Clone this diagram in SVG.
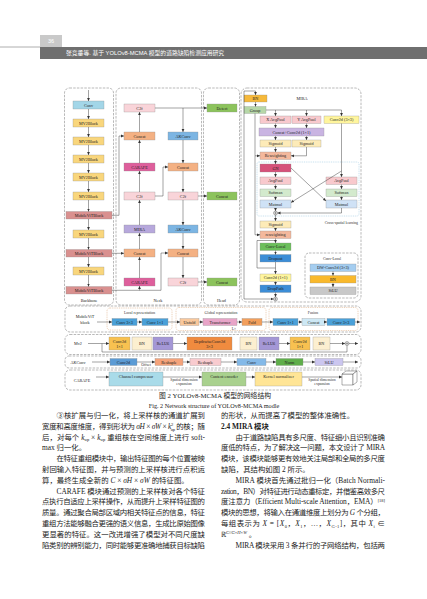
<svg xmlns="http://www.w3.org/2000/svg" width="427" height="599" viewBox="0 0 427 599">
<defs>
<marker id="a" markerWidth="4" markerHeight="4" refX="3" refY="2" orient="auto" markerUnits="userSpaceOnUse"><path d="M0,0.6 L3,2 L0,3.4z" fill="#333"/></marker>
<style>
.n{stroke:#8a8a8a;stroke-width:0.3}
.t{font-family:"Liberation Serif",serif;font-size:4.2px;text-anchor:middle;dominant-baseline:central;fill:#222}
.s{font-family:"Liberation Serif",serif;font-size:3.8px;text-anchor:middle;dominant-baseline:central;fill:#333}
.d{fill:none;stroke:#8a8a8a;stroke-width:0.6;stroke-dasharray:2.5,1.2}
.o{fill:none;stroke:#d9a070;stroke-width:0.5;stroke-dasharray:1,0.8}
.bl{fill:none;stroke:#8fc0dc;stroke-width:0.5;stroke-dasharray:1,0.8}
.c{fill:none;stroke:#333;stroke-width:0.45}
.ca{fill:none;stroke:#333;stroke-width:0.45;marker-end:url(#a)}
.p{font-family:"Liberation Serif","Noto Sans CJK SC",serif;font-size:7.4px;fill:#222}
.cap{font-family:"Liberation Serif","Noto Sans CJK SC",serif;fill:#222;text-anchor:middle}
</style>
</defs>
<rect width="427" height="599" fill="#fff"/>
<!-- header -->
<g id="header">
<rect x="40" y="35" width="22" height="12" fill="#c9c9c9"/>
<text x="51" y="43.3" font-family="Liberation Sans,sans-serif" font-size="5.5" fill="#fff" text-anchor="middle">36</text>
<line x1="0" y1="47" x2="40" y2="47" stroke="#9a9a9a" stroke-width="0.8"/>
<rect x="40" y="47" width="387" height="12" fill="#6f6f6f"/>
<text x="66" y="55.2" font-family="Liberation Sans,Noto Sans CJK SC,sans-serif" font-size="5.8" fill="#fff">张竞垂等. 基于 YOLOv8-MCMA 模型的道路缺陷检测应用研究</text>
</g>

<!-- frames -->
<g id="frames">
<rect class="d" x="64.5" y="88" width="49" height="217" rx="5"/>
<text class="t" x="89" y="300">Backbone</text>
<rect class="d" x="116" y="88" width="85.5" height="217" rx="5"/>
<text class="t" x="158" y="300">Neck</text>
<rect class="d" x="203.5" y="88" width="36" height="217" rx="5"/>
<text class="t" x="221.5" y="300">Head</text>
<rect class="d" x="241" y="88" width="120" height="214" rx="6"/>
<text class="t" x="302" y="98">MIRA</text>
<rect class="bl" x="257" y="162" width="102" height="54" rx="2"/>
<text class="s" x="358" y="223" style="text-anchor:end">Cross-spatial learning</text>
<rect class="d" x="305" y="253" width="53" height="45" rx="4"/>
<text class="s" x="332" y="258.5">Conv-Local</text>
</g>

<!-- backbone nodes -->
<g id="bb-conv"><rect class="n" x="73" y="101" width="31" height="8" fill="#a3d6e8"/><text class="t" x="88.5" y="105">Conv</text></g>
<g id="bb-mv2-1"><rect class="n" x="73" y="119" width="31" height="8" fill="#f9d67c"/><text class="t" x="88.5" y="123">MV2Block</text></g>
<g id="bb-mv2-2"><rect class="n" x="73" y="137" width="31" height="8" fill="#f9d67c"/><text class="t" x="88.5" y="141">MV2Block</text></g>
<g id="bb-mv2-3"><rect class="n" x="73" y="155" width="31" height="8" fill="#f9d67c"/><text class="t" x="88.5" y="159">MV2Block</text></g>
<g id="bb-mv2-4"><rect class="n" x="73" y="173" width="31" height="8" fill="#f9d67c"/><text class="t" x="88.5" y="177">MV2Block</text></g>
<g id="bb-mv2-5"><rect class="n" x="73" y="192" width="31" height="8" fill="#f9d67c"/><text class="t" x="88.5" y="196">MV2Block</text></g>
<g id="bb-mvit-1"><rect class="n" x="66" y="211.5" width="46" height="7.5" fill="#d9908f"/><text class="t" x="89" y="215.3">MobileViTBlock</text></g>
<g id="bb-mv2-6"><rect class="n" x="73" y="230" width="31" height="8" fill="#f9d67c"/><text class="t" x="88.5" y="234">MV2Block</text></g>
<g id="bb-mvit-2"><rect class="n" x="66" y="249.5" width="46" height="7.5" fill="#d9908f"/><text class="t" x="89" y="253.3">MobileViTBlock</text></g>
<g id="bb-mv2-7"><rect class="n" x="73" y="267" width="31" height="8" fill="#f9d67c"/><text class="t" x="88.5" y="271">MV2Block</text></g>
<g id="bb-mvit-3"><rect class="n" x="66" y="286.5" width="46" height="7.5" fill="#d9908f"/><text class="t" x="89" y="290.3">MobileViTBlock</text></g>

<!-- neck nodes -->
<g id="nk-c2f-1"><rect class="n" x="124" y="104" width="31" height="8" fill="#f9d4d9"/><text class="t" x="139.5" y="108">C2f</text></g>
<g id="nk-concat-1"><rect class="n" x="124" y="132" width="31" height="8" fill="#f4b183"/><text class="t" x="139.5" y="136">Concat</text></g>
<g id="nk-carafe-1"><rect class="n" x="124" y="163" width="31" height="8" fill="#de5f9c"/><text class="t" x="139.5" y="167">CARAFE</text></g>
<g id="nk-c2f-2"><rect class="n" x="124" y="192" width="31" height="8" fill="#f9d4d9"/><text class="t" x="139.5" y="196">C2f</text></g>
<g id="nk-mira"><rect class="n" x="124" y="225" width="31" height="8" fill="#b7a8dc"/><text class="t" x="139.5" y="229">MIRA</text></g>
<g id="nk-concat-2"><rect class="n" x="124" y="249" width="31" height="8" fill="#f4b183"/><text class="t" x="139.5" y="253">Concat</text></g>
<g id="nk-carafe-2"><rect class="n" x="124" y="278" width="31" height="8" fill="#de5f9c"/><text class="t" x="139.5" y="282">CARAFE</text></g>
<g id="nk-akconv-1"><rect class="n" x="168" y="132" width="30" height="8" fill="#7cb5e3"/><text class="t" x="183" y="136">AKConv</text></g>
<g id="nk-concat-3"><rect class="n" x="168" y="163" width="30" height="8" fill="#f4b183"/><text class="t" x="183" y="167">Concat</text></g>
<g id="nk-c2f-3"><rect class="n" x="168" y="192" width="30" height="8" fill="#f9d4d9"/><text class="t" x="183" y="196">C2f</text></g>
<g id="nk-akconv-2"><rect class="n" x="168" y="225" width="30" height="8" fill="#7cb5e3"/><text class="t" x="183" y="229">AKConv</text></g>
<g id="nk-concat-4"><rect class="n" x="168" y="249" width="30" height="8" fill="#f4b183"/><text class="t" x="183" y="253">Concat</text></g>
<g id="nk-c2f-4"><rect class="n" x="168" y="278" width="30" height="8" fill="#f9d4d9"/><text class="t" x="183" y="282">C2f</text></g>

<!-- head nodes -->
<g id="hd-detect"><rect class="n" x="207" y="104" width="30" height="8" fill="#8cc35c"/><text class="t" x="222" y="108">Detect</text></g>
<g id="hd-concat-1"><rect class="n" x="207" y="192" width="30" height="8" fill="#8cc35c"/><text class="t" x="222" y="196">Concat</text></g>
<g id="hd-concat-2"><rect class="n" x="207" y="278" width="30" height="8" fill="#8cc35c"/><text class="t" x="222" y="282">Concat</text></g>

<!-- MIRA nodes -->
<g id="m-bn"><rect class="n" x="244" y="95" width="23" height="7" fill="#f6b93b"/><text class="t" x="255.5" y="98.5">BN</text></g>
<g id="m-group"><rect class="n" x="244" y="106.5" width="22" height="7" fill="#b6d7a8"/><text class="t" x="255" y="110">Group</text></g>
<g id="m-xpool"><rect class="n" x="260" y="116" width="31" height="7.5" fill="#f8c9cd"/><text class="t" x="275.5" y="119.8">X AvgPool</text></g>
<g id="m-ypool"><rect class="n" x="292" y="116" width="29" height="7.5" fill="#f8c9cd"/><text class="t" x="306.5" y="119.8">Y AvgPool</text></g>
<g id="m-conv33"><rect class="n" x="324" y="116" width="35" height="7.5" fill="#fff59d"/><text class="t" x="341.5" y="119.8">Conv2d (3×3)</text></g>
<g id="m-concat"><rect class="n" x="259" y="128" width="65" height="8" fill="#c9b4e2"/><text class="t" x="291.5" y="132">Concat+Conv2d (1×1)</text></g>
<g id="m-sig1"><rect class="n" x="260" y="140" width="31" height="7" fill="#fdebb8"/><text class="t" x="275.5" y="143.5">Sigmoid</text></g>
<g id="m-sig2"><rect class="n" x="292" y="140" width="29" height="7" fill="#fdebb8"/><text class="t" x="306.5" y="143.5">Sigmoid</text></g>
<g id="m-rew1"><rect class="n" x="260" y="152" width="31" height="7.5" fill="#f4b89c"/><text class="t" x="275.5" y="155.8">Reweighting</text></g>
<g id="m-gn"><rect class="n" x="260" y="164" width="31" height="8" fill="#d6517a"/><text class="t" x="275.5" y="168">GN</text></g>
<g id="m-pool-l"><rect class="n" x="260" y="177" width="31" height="7.5" fill="#f8c9cd"/><text class="t" x="275.5" y="180.8">AvgPool</text></g>
<g id="m-pool-r"><rect class="n" x="326" y="177" width="31" height="7.5" fill="#f8c9cd"/><text class="t" x="341.5" y="180.8">AvgPool</text></g>
<g id="m-soft-l"><rect class="n" x="260" y="189" width="31" height="7.5" fill="#d3eacd"/><text class="t" x="275.5" y="192.8">Softmax</text></g>
<g id="m-soft-r"><rect class="n" x="326" y="189" width="31" height="7.5" fill="#d3eacd"/><text class="t" x="341.5" y="192.8">Softmax</text></g>
<g id="m-mat-l"><rect class="n" x="260" y="200" width="31" height="8" fill="#cfe2f6"/><text class="t" x="275.5" y="204">Matmul</text></g>
<g id="m-mat-r"><rect class="n" x="326" y="200" width="31" height="8" fill="#cfe2f6"/><text class="t" x="341.5" y="204">Matmul</text></g>
<g id="m-add1"><circle cx="275.5" cy="213" r="2" fill="#fff" stroke="#333" stroke-width="0.4"/><path d="M274,213h3M275.5,211.5v3" stroke="#333" stroke-width="0.4"/></g>
<g id="m-sig3"><rect class="n" x="260" y="221" width="31" height="7" fill="#fdebb8"/><text class="t" x="275.5" y="224.5">Sigmoid</text></g>
<g id="m-rew2"><rect class="n" x="260" y="231" width="31" height="7.5" fill="#f4b89c"/><text class="t" x="275.5" y="234.8">reweighting</text></g>
<g id="m-convlocal"><rect class="n" x="260" y="243" width="31" height="7.5" fill="#6cbf5b"/><text class="t" x="275.5" y="246.8">Conv-Local</text></g>
<g id="m-dropout"><rect class="n" x="260" y="254.5" width="31" height="7.5" fill="#3c8dd6"/><text class="t" x="275.5" y="258.3">Dropout</text></g>
<g id="m-conv11"><rect class="n" x="260" y="274" width="31" height="7.5" fill="#fff59d"/><text class="t" x="275.5" y="277.8">Conv2d (1×1)</text></g>
<g id="m-droppath"><rect class="n" x="260" y="285" width="31" height="7.5" fill="#3c8dd6"/><text class="t" x="275.5" y="288.8">DropPath</text></g>
<g id="m-add2"><circle cx="275.5" cy="299" r="2" fill="#fff" stroke="#333" stroke-width="0.4"/><path d="M274,299h3M275.5,297.5v3" stroke="#333" stroke-width="0.4"/></g>
<g id="cl-dw"><rect class="n" x="310" y="264" width="46" height="7.5" fill="#a4cdf0"/><text class="t" x="333" y="267.8">DW-Conv2d (3×3)</text></g>
<g id="cl-bn"><rect class="n" x="310" y="275.5" width="46" height="7.5" fill="#f9b92c"/><text class="t" x="333" y="279.3">BN</text></g>
<g id="cl-silu"><rect class="n" x="310" y="287" width="46" height="7.5" fill="#c8c8c8"/><text class="t" x="333" y="290.8">SiLU</text></g>

<!-- bottom rows -->
<g id="row-mvit">
<rect class="d" x="65" y="306" width="296" height="26" rx="5"/>
<text class="t" x="85" y="316.5">MobileViT</text><text class="t" x="85" y="322.5">block</text>
<rect class="o" x="107" y="308" width="65" height="22" rx="3"/>
<text class="s" x="139.5" y="312.5">Local representation</text>
<rect class="o" x="176" y="307.5" width="90" height="23" rx="3"/>
<text class="s" x="221" y="312.5">Global representation</text>
<rect class="o" x="269" y="307.5" width="89" height="23" rx="3"/>
<text class="s" x="313" y="312.5">Fusion</text>
</g>
<g id="mv-conv33"><rect class="n" x="112" y="318.5" width="25" height="7" fill="#4aa0d8"/><text class="t" x="124.5" y="322">Conv 3×3</text></g>
<g id="mv-conv11"><rect class="n" x="142" y="318.5" width="26" height="7" fill="#4aa0d8"/><text class="t" x="155" y="322">Conv 1×1</text></g>
<g id="mv-unfold"><rect class="n" x="180" y="318.5" width="19" height="7" fill="#f9c89c"/><text class="t" x="189.5" y="322">Unfold</text></g>
<g id="mv-trans"><rect class="n" x="203" y="318.5" width="34" height="7" fill="#e8a4c8"/><text class="t" x="220" y="322">Transformer</text><text class="s" x="234" y="328.5">L×</text></g>
<g id="mv-fold"><rect class="n" x="242" y="318.5" width="20" height="7" fill="#f29f5c"/><text class="t" x="252" y="322">Fold</text></g>
<g id="mv-fconv11"><rect class="n" x="273" y="318.5" width="25" height="7" fill="#4aa0d8"/><text class="t" x="285.5" y="322">Conv 1×1</text></g>
<g id="mv-fconcat"><rect class="n" x="302" y="318.5" width="23" height="7" fill="#cde8f5"/><text class="t" x="313.5" y="322">Concat</text></g>
<g id="mv-fconv33"><rect class="n" x="327" y="318.5" width="28" height="7" fill="#4aa0d8"/><text class="t" x="341" y="322">Conv 3×3</text></g>

<g id="row-mv2">
<rect class="d" x="65" y="334.5" width="296" height="20" rx="5"/>
<text class="t" x="78" y="343.5">Mv2</text>
</g>
<g id="mv2-conv1"><rect class="n" x="109" y="337" width="21" height="13" fill="#f8c150"/><text class="t" x="119.5" y="341">Conv2d</text><text class="t" x="119.5" y="346">1×1</text></g>
<g id="mv2-bn1"><rect class="n" x="132" y="337" width="20" height="13" fill="#fcefd0"/><text class="t" x="142" y="343.5">BN</text></g>
<g id="mv2-relu1"><rect class="n" x="153" y="337" width="20" height="13" fill="#a497d6"/><text class="t" x="163" y="343.5">ReLU6</text></g>
<g id="mv2-dw"><rect class="n" x="187" y="337" width="45" height="13" fill="#f08b3f"/><text class="t" x="209.5" y="341">DepthwiseConv2d</text><text class="t" x="209.5" y="346">3×3</text></g>
<g id="mv2-bn2"><rect class="n" x="240" y="337" width="17" height="13" fill="#fcefd0"/><text class="t" x="248.5" y="343.5">BN</text></g>
<g id="mv2-relu2"><rect class="n" x="259" y="337" width="20" height="13" fill="#a497d6"/><text class="t" x="269" y="343.5">ReLU6</text></g>
<g id="mv2-conv2"><rect class="n" x="290" y="337" width="20" height="13" fill="#f8c150"/><text class="t" x="300" y="341">Conv2d</text><text class="t" x="300" y="346">1×1</text></g>
<g id="mv2-bn3"><rect class="n" x="313" y="337" width="17" height="13" fill="#fcefd0"/><text class="t" x="321.5" y="343.5">BN</text></g>
<g id="mv2-add"><circle cx="347" cy="343.5" r="2" fill="#fff" stroke="#333" stroke-width="0.4"/><path d="M345.5,343.5h3M347,342v3" stroke="#333" stroke-width="0.4"/></g>

<g id="row-ak">
<rect class="d" x="65" y="356" width="296" height="12" rx="4"/>
<text class="t" x="78" y="362">AKConv</text>
<text class="s" x="146" y="365.3">Offset</text>
</g>
<g id="ak-conv2d"><rect class="n" x="110" y="358.5" width="27" height="7" fill="#5b9bd5"/><text class="t" x="123.5" y="362">Conv2d</text></g>
<g id="ak-resh1"><rect class="n" x="155" y="358.5" width="28" height="7" fill="#f4a37b"/><text class="t" x="169" y="362">Reshaple</text></g>
<g id="ak-resh2"><rect class="n" x="190" y="358.5" width="31" height="7" fill="#f8cbcf"/><text class="t" x="205.5" y="362">Reshaple</text></g>
<g id="ak-conv"><rect class="n" x="237" y="358.5" width="29" height="7" fill="#83b9e8"/><text class="t" x="251.5" y="362">Conv</text></g>
<g id="ak-norm"><rect class="n" x="276" y="358.5" width="27" height="7" fill="#5fae4a"/><text class="t" x="289.5" y="362">Norm</text></g>
<g id="ak-silu"><rect class="n" x="315" y="358.5" width="28" height="7" fill="#cbc6ef"/><text class="t" x="329" y="362">SiLU</text></g>

<g id="row-carafe">
<rect class="d" x="65" y="370" width="296" height="20" rx="5"/>
<text class="t" x="82" y="380">CARAFE</text>
<text class="s" x="184" y="379.5">Spatial dimension</text><text class="s" x="184" y="383.8">expansion</text>
<text class="s" x="322" y="379.5">Spatial dimension</text><text class="s" x="322" y="383.8">expansion</text>
</g>
<g id="cf-comp"><rect class="n" x="109" y="372" width="54" height="14" fill="#a9dbe9"/><text class="t" x="136" y="376">Channel compressor</text></g>
<g id="cf-enc"><rect class="n" x="202" y="372" width="44" height="14" fill="#a9d18e"/><text class="t" x="224" y="376">Content encoder</text></g>
<g id="cf-norm"><rect class="n" x="255" y="372" width="47" height="14" fill="#ffe596"/><text class="t" x="278.5" y="376">Kernel normalizer</text></g>
<g id="cf-cube" fill="#fff" stroke="#333" stroke-width="0.4"><path d="M342,374h11v11h-11z"/><path d="M342,374l4,-3h11l-4,3z"/><path d="M353,374l4,-3v11l-4,3z"/></g>

<!-- connectors -->
<g id="connectors">
<path class="ca" d="M88.5,90V101"/>
<path class="ca" d="M88.5,109V119"/>
<path class="ca" d="M88.5,127V137"/>
<path class="ca" d="M88.5,145V155"/>
<path class="ca" d="M88.5,163V173"/>
<path class="ca" d="M88.5,181V192"/>
<path class="ca" d="M88.5,200V211.5"/>
<path class="ca" d="M88.5,219V230"/>
<path class="ca" d="M88.5,238V249.5"/>
<path class="ca" d="M88.5,257V267"/>
<path class="ca" d="M88.5,275V286.5"/>
<path class="ca" d="M112,215.3H119V136H124"/>
<path class="ca" d="M112,253.3H124"/>
<path class="ca" d="M112,290.3H161V253H168"/>
<path class="ca" d="M139.5,290.3V286"/>
<path class="ca" d="M139.5,278V257"/>
<path class="ca" d="M139.5,249V233"/>
<path class="ca" d="M139.5,225V200"/>
<path class="ca" d="M139.5,192V171"/>
<path class="ca" d="M139.5,163V140"/>
<path class="ca" d="M139.5,132V112"/>
<path class="ca" d="M155,108H207"/>
<path class="ca" d="M183,108V132"/>
<path class="ca" d="M183,140V163"/>
<path class="ca" d="M155,196H163V167H168"/>
<path class="ca" d="M183,171V192"/>
<path class="ca" d="M198,196H207"/>
<path class="ca" d="M183,200V225"/>
<path class="ca" d="M183,233V249"/>
<path class="ca" d="M183,257V278"/>
<path class="ca" d="M198,282H207"/>
<path class="ca" d="M244,91H255.5V95"/>
<path class="ca" d="M244,91V299H273.5"/>
<path class="ca" d="M255.5,102V106.5"/>
<path class="c" d="M266,110H341.5"/>
<path class="ca" d="M275.5,110V116"/>
<path class="ca" d="M306.5,110V116"/>
<path class="ca" d="M341.5,110V116"/>
<path class="ca" d="M275.5,123.5V128"/>
<path class="ca" d="M306.5,123.5V128"/>
<path class="ca" d="M275.5,136V140"/>
<path class="ca" d="M306.5,136V140"/>
<path class="ca" d="M275.5,147V152"/>
<path class="ca" d="M306.5,147V155.8H291"/>
<path class="ca" d="M255,113.5V155.8H260"/>
<path class="ca" d="M255,155.8V234.8H260"/>
<path class="ca" d="M275.5,159.5V164"/>
<path class="ca" d="M275.5,172V177"/>
<path class="ca" d="M341.5,123.5V177"/>
<path class="ca" d="M275.5,184.5V189"/>
<path class="ca" d="M341.5,184.5V189"/>
<path class="ca" d="M275.5,196.5V200"/>
<path class="ca" d="M341.5,196.5V200"/>
<path class="ca" d="M291,168L326,201"/>
<path class="ca" d="M341.5,171L291,202.5"/>
<path class="ca" d="M275.5,208V211"/>
<path class="ca" d="M341.5,208V213H277.5"/>
<path class="ca" d="M275.5,215V221"/>
<path class="ca" d="M275.5,228V231"/>
<path class="ca" d="M275.5,238.5V243"/>
<path class="ca" d="M275.5,250.5V254.5"/>
<path class="ca" d="M275.5,262V274"/>
<path class="c" d="M275.5,240.5H257V268H275.5"/>
<path class="ca" d="M275.5,281.5V285"/>
<path class="ca" d="M275.5,292.5V297"/>
<path class="ca" d="M333,271.5V275.5"/>
<path class="ca" d="M333,283V287"/>
<path class="ca" d="M97,322H112"/>
<path class="ca" d="M137,322H142"/>
<path class="ca" d="M168,322H180"/>
<path class="ca" d="M199,322H203"/>
<path class="ca" d="M237,322H242"/>
<path class="ca" d="M262,322H273"/>
<path class="ca" d="M298,322H302"/>
<path class="ca" d="M325,322H327"/>
<path class="ca" d="M355,322H360"/>
<path class="ca" d="M88,343.5H109"/>
<path class="c" d="M102,343.5V352H347V345.5"/>
<path class="ca" d="M173,343.5H187"/>
<path class="ca" d="M279,343.5H290"/>
<path class="ca" d="M330,343.5H345"/>
<path class="ca" d="M349,343.5H358"/>
<path class="ca" d="M92,362H110"/>
<path class="ca" d="M137,362H155"/>
<path class="ca" d="M183,362H190"/>
<path class="ca" d="M221,362H237"/>
<path class="ca" d="M266,362H276"/>
<path class="ca" d="M303,362H315"/>
<path class="ca" d="M343,362H358"/>
<path class="ca" d="M96,377H109"/>
<path class="ca" d="M163,377H202"/>
<path class="ca" d="M246,377H255"/>
<path class="ca" d="M302,377H342"/>
</g>

<!-- caption -->
<text class="cap" x="215" y="397.5" font-size="6.8">图 2    YOLOv8-MCMA 模型的网络结构</text>
<text class="cap" x="214" y="407.5" font-size="6.2">Fig. 2    Network structure of YOLOv8-MCMA modle</text>

<!-- left column -->
<g id="text-left" class="p">
<text x="56.5" y="418" textLength="148.5" lengthAdjust="spacing">③核扩展与归一化，将上采样核的通道扩展到</text>
<text x="42" y="428.8" textLength="163" lengthAdjust="spacing">宽度和高度维度，得到形状为 <tspan font-style="italic">σH</tspan> × <tspan font-style="italic">σW</tspan> × <tspan font-style="italic">k</tspan><tspan font-size="4.5" dy="-2.8">2</tspan><tspan font-size="4.5" dx="-2.3" dy="4.8">up</tspan><tspan dy="-2"> 的核；随</tspan></text>
<text x="42" y="439.6" textLength="163" lengthAdjust="spacing">后，对每个 <tspan font-style="italic">k</tspan><tspan font-size="4.5" dy="1.8">up</tspan><tspan dy="-1.8"> × </tspan><tspan font-style="italic">k</tspan><tspan font-size="4.5" dy="1.8">up</tspan><tspan dy="-1.8"> 重组核在空间维度上进行 soft-</tspan></text>
<text x="42" y="450.4">max 归一化。</text>
<text x="56.5" y="461.2" textLength="148.5" lengthAdjust="spacing">在特征重组模块中，输出特征图的每个位置被映</text>
<text x="42" y="472" textLength="163" lengthAdjust="spacing">射回输入特征图，并与预测的上采样核进行点积运</text>
<text x="42" y="482.8">算，最终生成全新的 <tspan font-style="italic">C</tspan> × <tspan font-style="italic">σH</tspan> × <tspan font-style="italic">σW</tspan> 的特征图。</text>
<text x="56.5" y="493.6" textLength="148.5" lengthAdjust="spacing">CARAFE 模块通过预测的上采样核对各个特征</text>
<text x="42" y="504.4" textLength="163" lengthAdjust="spacing">点执行自适应上采样操作，从而提升上采样特征图的</text>
<text x="42" y="515.2" textLength="163" lengthAdjust="spacing">质量。通过聚合局部区域内相关特征点的信息，特征</text>
<text x="42" y="526" textLength="163" lengthAdjust="spacing">重组方法能够融合更强的语义信息，生成比原始图像</text>
<text x="42" y="536.8" textLength="163" lengthAdjust="spacing">更显著的特征。这一改进增强了模型对不同尺度缺</text>
<text x="42" y="547.6" textLength="163" lengthAdjust="spacing">陷类别的辨别能力，同时能够更准确地捕获目标缺陷</text>
</g>

<!-- right column -->
<g id="text-right" class="p">
<text x="221" y="418">的形状，从而提高了模型的整体准确性。</text>
<text x="221" y="428.8" font-weight="bold">2.4   MIRA 模块</text>
<text x="235.5" y="439.6" textLength="149.5" lengthAdjust="spacing">由于道路缺陷具有多尺度、特征细小且识别准确</text>
<text x="221" y="450.4" textLength="164" lengthAdjust="spacing">度低的特点，为了解决这一问题，本文设计了 MIRA</text>
<text x="221" y="461.2" textLength="164" lengthAdjust="spacing">模块，该模块能够更有效地关注局部和全局的多尺度</text>
<text x="221" y="472">缺陷，其结构如图 2 所示。</text>
<text x="235.5" y="482.8" textLength="149.5" lengthAdjust="spacing">MIRA 模块首先通过批归一化（Batch Normali-</text>
<text x="221" y="493.6" textLength="164" lengthAdjust="spacing">zation，BN）对特征进行动态重标定，并借鉴高效多尺</text>
<text x="221" y="504.4" textLength="164" lengthAdjust="spacing">度注意力（Efficient Multi-scale Attention，EMA）<tspan font-size="4.5" dy="-2.8">[18]</tspan></text>
<text x="221" y="515.2" textLength="164" lengthAdjust="spacing">模块的思想，将输入在通道维度上划分为 <tspan font-style="italic">G</tspan> 个分组，</text>
<text x="221" y="526" textLength="164" lengthAdjust="spacing">每组表示为 <tspan font-style="italic">X</tspan> = [<tspan font-style="italic">X</tspan><tspan font-size="4.5" dy="1.8">0</tspan><tspan dy="-1.8">，</tspan><tspan font-style="italic">X</tspan><tspan font-size="4.5" dy="1.8">1</tspan><tspan dy="-1.8">，…，</tspan><tspan font-style="italic">X</tspan><tspan font-size="4.5" dy="1.8">G-1</tspan><tspan dy="-1.8">]，其中 </tspan><tspan font-style="italic">X</tspan><tspan font-size="4.5" dy="1.8">i</tspan><tspan dy="-1.8"> ∈</tspan></text>
<text x="221" y="536.8">ℝ<tspan font-size="4.5" dy="-3"><tspan font-style="italic">C</tspan>//<tspan font-style="italic">G</tspan>×<tspan font-style="italic">H</tspan>×<tspan font-style="italic">W</tspan></tspan><tspan dy="3"> 。</tspan></text>
<text x="235.5" y="547.6" textLength="149.5" lengthAdjust="spacing">MIRA 模块采用 3 条并行的子网络结构，包括两</text>
</g>
</svg>
